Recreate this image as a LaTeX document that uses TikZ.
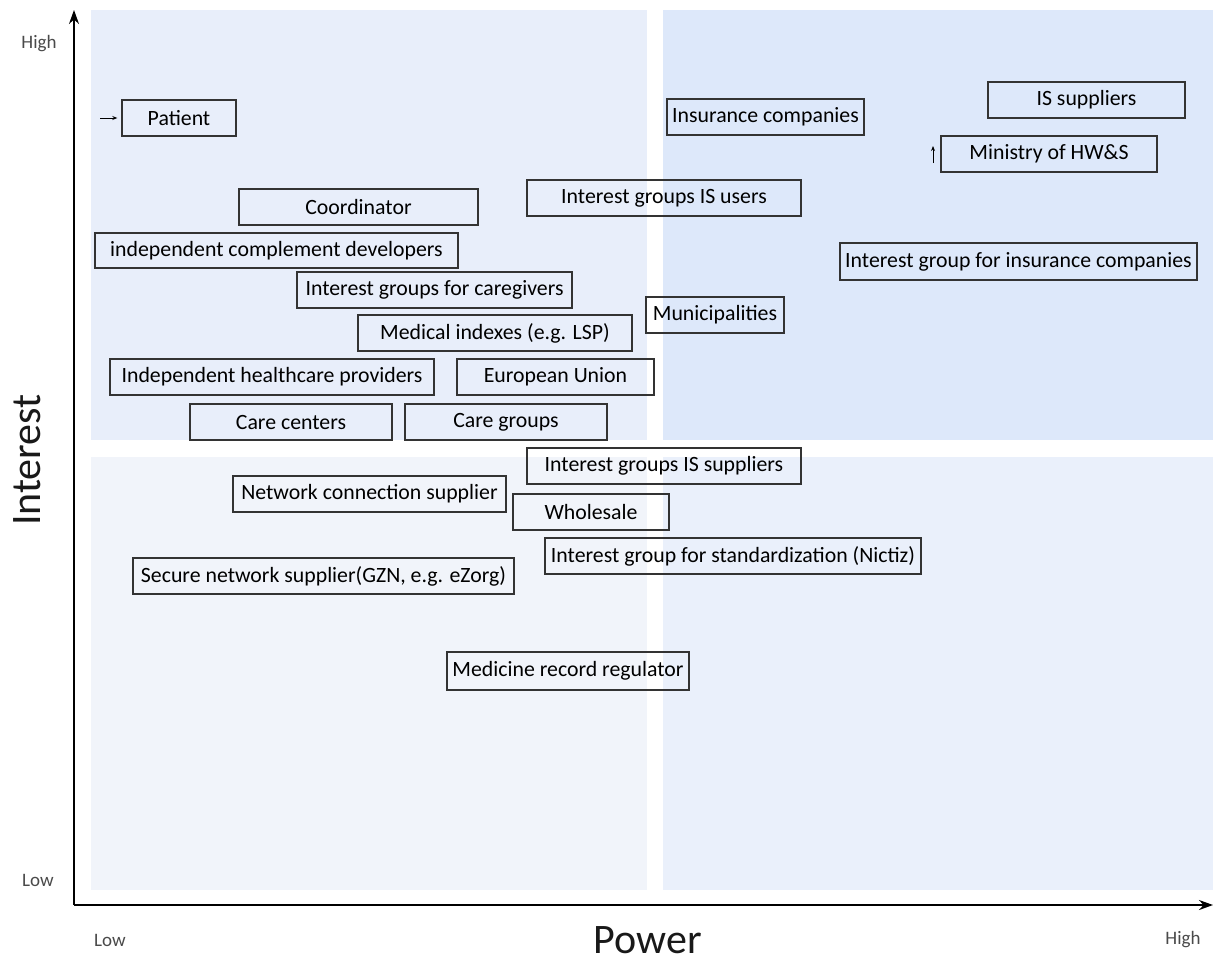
\documentclass[tikz,border=0pt]{standalone}
\usepackage{fontspec}
\setmainfont{Carlito}
\usetikzlibrary{arrows.meta}

\definecolor{qtl}{HTML}{E8EEFA}
\definecolor{qtr}{HTML}{DDE8FA}
\definecolor{qbl}{HTML}{F1F4FA}
\definecolor{qbr}{HTML}{EAF0FB}
\definecolor{boxline}{HTML}{333333}
\definecolor{ticktext}{HTML}{4A4A4A}

\tikzset{
  stakebox/.style={draw=boxline, line width=1.4pt, inner sep=0pt,
    font=\fontsize{21.8}{23}\selectfont, text=black},
  axisline/.style={line width=1.8pt, -{Stealth[length=14pt,width=10pt]}},
  tick/.style={font=\fontsize{19}{21}\selectfont, text=ticktext},
  axislabel/.style={font=\fontsize{42}{46}\selectfont, text=black!90},
  pointer/.style={line width=0.9pt, -{Stealth[length=5pt,width=4pt]}}
}

% \stake{name}{x1}{y1}{x2}{y2}{label}
\newcommand\stake[6]{%
  \node[stakebox, minimum width={(#4-#2)*1pt}, minimum height={(#5-#3)*1pt}]
    (#1) at ({(#2+#4)/2},{(#3+#5)/2}) {#6};}

\begin{document}
\begin{tikzpicture}[x=1pt,y=-1pt]
\useasboundingbox (0,0) rectangle (1214,964);

% quadrants
\fill[qtl] (91,10) rectangle (647,440);
\fill[qtr] (663,10) rectangle (1213,440);
\fill[qbl] (91,457) rectangle (647,890);
\fill[qbr] (663,457) rectangle (1213,890);

% axes
\coordinate (origin) at (74,905);
\coordinate (ytop) at (74,10);
\coordinate (xend) at (1213,905);
\draw[axisline] (origin) -- (ytop);
\draw[axisline] (origin) -- (xend);

\node[tick] (yhigh) at (39,44) {High};
\node[tick] (ylow) at (38,880) {Low};
\node[tick] (xlow) at (110,940) {Low};
\node[tick] (xhigh) at (1183,940) {High};
\node[axislabel] (xlab) at (648,940) {Power};
\node[axislabel, rotate=90] (ylab) at (27,460) {Interest};

% stakeholders
\stake{patient}{122}{100}{236}{136}{Patient}
\stake{insur}{667}{99}{864}{135}{Insurance companies}
\stake{issup}{988}{82}{1185}{118}{IS suppliers}
\stake{minist}{941}{136}{1157}{172}{Ministry of HW\&S}
\stake{coord}{239}{189}{478}{225}{Coordinator}
\stake{igisu}{527}{180}{801}{216}{Interest groups IS users}
\stake{icd}{95}{233}{458}{268}{independent complement developers}
\stake{igic}{840}{243}{1197}{280}{Interest group for insurance companies}
\stake{igcg}{297}{272}{572}{308}{Interest groups for caregivers}
\stake{medidx}{358}{315}{632}{351}{Medical indexes (e.g. LSP)}
\stake{munic}{646}{297}{784}{333}{Municipalities}
\stake{ihp}{110}{359}{434}{395}{Independent healthcare providers}
\stake{eu}{457}{359}{654}{395}{European Union}
\stake{carec}{190}{404}{392}{440}{Care centers}
\stake{careg}{405}{404}{607}{440}{Care groups}
\stake{igiss}{527}{448}{801}{484}{Interest groups IS suppliers}
\stake{ncs}{233}{476}{506}{512}{Network connection supplier}
\stake{whole}{513}{494}{669}{530}{Wholesale}
\stake{igstd}{545}{538}{921}{574}{Interest group for standardization (Nictiz)}
\stake{sns}{133}{558}{514}{594}{Secure network supplier(GZN, e.g. eZorg)}
\stake{mrr}{447}{652}{689}{690}{Medicine record regulator}

% movement markers
\coordinate (patfrom) at (100,118);
\draw[pointer, shorten >=4pt] (patfrom) -- (patient.west);
\coordinate (minfrom) at (933,163);
\coordinate (minto) at (933,146);
\draw[pointer] (minfrom) -- (minto);
\end{tikzpicture}
\end{document}
